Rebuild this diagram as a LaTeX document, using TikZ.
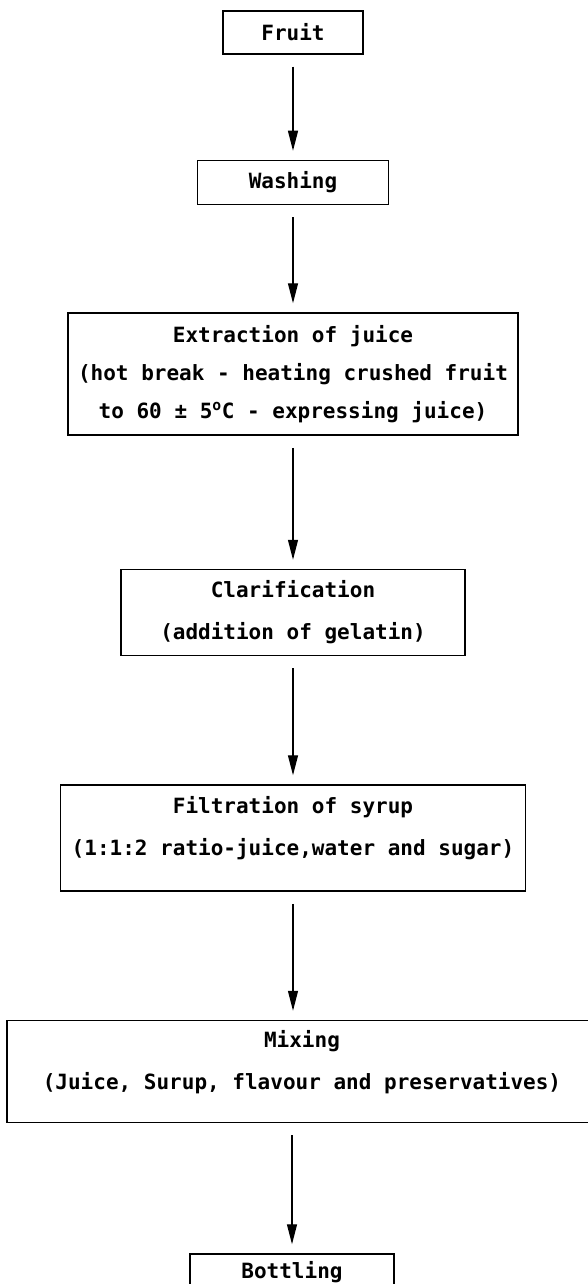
\documentclass[tikz,border=0pt]{standalone}
\usepackage{fontspec}
\newfontfamily\flowfont{DejaVu Sans Mono}
\usetikzlibrary{positioning, arrows.meta}
\tikzset{stepbox/.style={rectangle, draw, line width=1.5pt, align=center, inner sep=0pt,
    font=\flowfont\bfseries\fontsize{21}{42}\selectfont},
  flow/.style={-{Triangle[length=20pt, width=10pt]}, line width=1.3pt, shorten <=12pt, shorten >=9pt}}

\begin{document}
\begin{tikzpicture}
        \useasboundingbox (0pt,0pt) rectangle (587pt,-1284pt);
        \node[stepbox, minimum width=140pt, minimum height=43pt] (fruit) at (293pt,-32.5pt) {Fruit};
        \node[stepbox, below=105pt of fruit, minimum width=191pt, minimum height=44pt] (washing) {Washing};
        \node[stepbox, below=107pt of washing, minimum width=450pt, minimum height=122pt,
            font=\flowfont\bfseries\fontsize{21}{38}\selectfont] (extraction)
            {Extraction of juice\\(hot break - heating crushed fruit\\to 60 ± 5\textsuperscript{o}C - expressing juice)};
        \node[stepbox, below=133pt of extraction, minimum width=344pt, minimum height=86pt] (clarification)
            {Clarification\\(addition of gelatin)};
        \node[stepbox, below=128pt of clarification, minimum width=465pt, minimum height=106pt] (filtration)
            {Filtration of syrup\\(1:1:2 ratio-juice,water and sugar)\rule[-25pt]{0pt}{1pt}};
        \node[stepbox, below=128pt of filtration, xshift=9pt, minimum width=590pt, minimum height=102pt] (mixing)
            {Mixing\\(Juice, Surup, flavour and preservatives)\rule[-23pt]{0pt}{1pt}};
        \node[stepbox, below=130pt of mixing, xshift=-10pt, minimum width=204pt, minimum height=44pt] (bottling)
            {Bottling\rule[-12pt]{0pt}{1pt}};
        % arrows between the steps
        \draw[flow] (fruit) -- (washing);
        \draw[flow] (washing) -- (extraction);
        \draw[flow] (extraction) -- (clarification);
        \draw[flow] (clarification) -- (filtration);
        \draw[flow] (filtration.south) -- (filtration.south |- mixing.north);
        \draw[flow] (mixing.south -| bottling.north) -- (bottling.north);
    \end{tikzpicture}
\end{document}
